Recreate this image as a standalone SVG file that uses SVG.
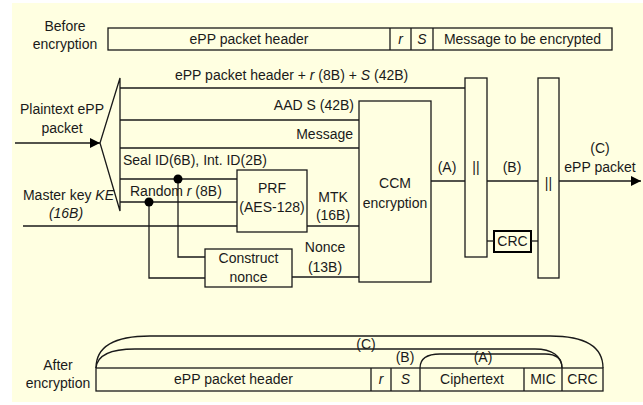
<svg xmlns="http://www.w3.org/2000/svg" width="643" height="405" viewBox="0 0 643 405">
  <style>
    text { font-family: "Liberation Sans", Arial, sans-serif; font-size: 14px; fill: #1a1a1a; }
    .m { text-anchor: middle; }
    .e { text-anchor: end; }
    .i { font-style: italic; }
    .box { fill: none; stroke: #1a1a1a; stroke-width: 1.3; }
    .ln { fill: none; stroke: #1a1a1a; stroke-width: 1.3; }
    .dot { fill: #000; }
  </style>
  <defs>
    <marker id="arrow" markerWidth="10" markerHeight="10" refX="10" refY="5" orient="auto" markerUnits="userSpaceOnUse">
      <path d="M0,0 L10,5 L0,10 Z" fill="#000"/>
    </marker>
  </defs>

  <!-- background panel -->
  <rect x="12" y="3" width="631" height="399" fill="#FFFFE1"/>

  <!-- packet layout before encryption -->
  <g id="before">
    <text class="m" x="65" y="31">Before</text>
    <text class="m" x="65" y="49">encryption</text>
    <rect class="box" x="108" y="28" width="504" height="22"/>
    <line class="ln" x1="390" y1="28" x2="390" y2="50"/>
    <line class="ln" x1="411" y1="28" x2="411" y2="50"/>
    <line class="ln" x1="433" y1="28" x2="433" y2="50"/>
    <text class="m" x="249" y="44">ePP packet header</text>
    <text class="m i" x="400.5" y="44">r</text>
    <text class="m i" x="422" y="44">S</text>
    <text class="m" x="522.5" y="44">Message to be encrypted</text>
  </g>

  <!-- splitter -->
  <g id="splitter">
    <polygon class="box" points="120,78 100,143 120,211"/>
    <text class="m" x="62" y="114">Plaintext ePP</text>
    <text class="m" x="62" y="133">packet</text>
  </g>

  <g id="prf">
    <rect class="box" x="237" y="170" width="70" height="62"/>
    <text class="m" x="272" y="193">PRF</text>
    <text class="m" x="272" y="212">(AES-128)</text>
  </g>

  <g id="construct-nonce">
    <rect class="box" x="205" y="249" width="87" height="38"/>
    <text class="m" x="248.5" y="263">Construct</text>
    <text class="m" x="248.5" y="282">nonce</text>
  </g>

  <g id="ccm">
    <rect class="box" x="359" y="101" width="72" height="181"/>
    <text class="m" x="395" y="188">CCM</text>
    <text class="m" x="395" y="208">encryption</text>
  </g>

  <g id="concat1">
    <rect class="box" x="465" y="78" width="22" height="179"/>
    <text class="m" x="476" y="172">||</text>
  </g>

  <g id="concat2">
    <rect class="box" x="538" y="78" width="21" height="200"/>
    <text class="m" x="548.5" y="188">||</text>
  </g>

  <g id="crc">
    <rect x="494" y="231" width="37" height="21" fill="none" stroke="#000" stroke-width="2"/>
    <text class="m" x="512.5" y="246">CRC</text>
  </g>

  <!-- connectors -->
  <g id="connectors">
    <line class="ln" x1="15" y1="143" x2="100" y2="143" marker-end="url(#arrow)"/>
    <line class="ln" x1="120" y1="88" x2="465" y2="88"/>
    <line class="ln" x1="120" y1="120" x2="359" y2="120"/>
    <line class="ln" x1="120" y1="148" x2="359" y2="148"/>
    <line class="ln" x1="120" y1="179" x2="237" y2="179"/>
    <line class="ln" x1="120" y1="202" x2="237" y2="202"/>
    <line class="ln" x1="23" y1="226" x2="237" y2="226"/>
    <line class="ln" x1="307" y1="226" x2="359" y2="226"/>
    <line class="ln" x1="292" y1="277" x2="359" y2="277"/>
    <polyline class="ln" points="178,179 178,257 205,257"/>
    <polyline class="ln" points="149,202 149,278 205,278"/>
    <circle class="dot" cx="178" cy="179" r="4.5"/>
    <circle class="dot" cx="149" cy="202" r="4.5"/>
    <line class="ln" x1="431" y1="181" x2="465" y2="181"/>
    <line class="ln" x1="487" y1="181" x2="538" y2="181"/>
    <line class="ln" x1="559" y1="181" x2="641" y2="181" marker-end="url(#arrow)"/>
    <line class="ln" x1="487" y1="241" x2="494" y2="241"/>
    <line class="ln" x1="531" y1="241" x2="538" y2="241"/>

    <text x="175" y="80">ePP packet header + <tspan class="i">r</tspan> (8B) + <tspan class="i">S</tspan> (42B)</text>
    <text class="e" x="354" y="110">AAD S (42B)</text>
    <text class="e" x="353" y="139">Message</text>
    <text x="123" y="165">Seal ID(6B), Int. ID(2B)</text>
    <text x="130" y="196">Random <tspan class="i">r</tspan> (8B)</text>
    <text class="e" x="114" y="200">Master key <tspan class="i">KE</tspan></text>
    <text class="m i" x="66" y="218">(16B)</text>
    <text class="m" x="333" y="202">MTK</text>
    <text class="m" x="333" y="220">(16B)</text>
    <text class="m" x="325" y="252">Nonce</text>
    <text class="m" x="325" y="272">(13B)</text>
    <text class="m" x="447" y="172">(A)</text>
    <text class="m" x="512" y="172">(B)</text>
    <text class="m" x="600" y="153">(C)</text>
    <text class="m" x="600" y="172">ePP packet</text>
  </g>

  <!-- packet layout after encryption -->
  <g id="after">
    <text class="m" x="58" y="370">After</text>
    <text class="m" x="58" y="388">encryption</text>
    <rect class="box" x="96" y="368" width="507" height="23"/>
    <line class="ln" x1="371" y1="368" x2="371" y2="391"/>
    <line class="ln" x1="391" y1="368" x2="391" y2="391"/>
    <line class="ln" x1="420" y1="368" x2="420" y2="391"/>
    <line class="ln" x1="524" y1="368" x2="524" y2="391"/>
    <line class="ln" x1="562" y1="368" x2="562" y2="391"/>
    <text class="m" x="233.5" y="384">ePP packet header</text>
    <text class="m i" x="381" y="384">r</text>
    <text class="m i" x="405.5" y="384">S</text>
    <text class="m" x="472" y="384">Ciphertext</text>
    <text class="m" x="543" y="384">MIC</text>
    <text class="m" x="582.5" y="384">CRC</text>
    <path class="ln" d="M96,368 C96,346 115,336 150,336 L550,336 C585,336 603,346 603,368"/>
    <path class="ln" d="M96,368 C97,356 108,349 135,349 L535,349 C552,349 562,356 562,368"/>
    <path class="ln" d="M420,368 C420,359 426,354 440,354 L545,354 C556,354 562,359 562,368"/>
    <text class="m" x="366" y="349">(C)</text>
    <text class="m" x="405" y="362">(B)</text>
    <text class="m" x="483" y="362">(A)</text>
  </g>
</svg>
